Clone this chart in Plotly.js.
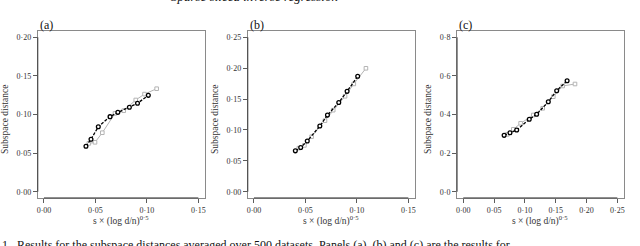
<!DOCTYPE html>
<html>
<head>
<meta charset="utf-8">
<script src="https://cdn.plot.ly/plotly-3.0.1.min.js"></script>
<style>html,body{margin:0;padding:0;background:#fff;}#chart{width:640px;height:246px;}</style>
</head>
<body>
<div id="chart"></div>
<script>
// Panel (a)
const xaCirc = [0.0408, 0.0457, 0.0528, 0.0642, 0.0718, 0.0830, 0.0909, 0.1014];
const yaCirc = [0.0588, 0.0679, 0.0842, 0.0972, 0.1028, 0.1093, 0.1145, 0.1248];
const xaSq   = [0.0436, 0.0496, 0.0567, 0.0690, 0.0775, 0.0892, 0.0977, 0.1095];
const yaSq   = [0.0626, 0.0640, 0.0764, 0.1015, 0.1049, 0.1188, 0.1264, 0.1334];
// Panel (b)
const xbCirc = [0.0402, 0.0454, 0.0518, 0.0640, 0.0714, 0.0824, 0.0905, 0.1008];
const ybCirc = [0.0662, 0.0715, 0.0820, 0.1064, 0.1240, 0.1445, 0.1625, 0.1868];
const xbSq   = [0.0436, 0.0490, 0.0560, 0.0690, 0.0770, 0.0885, 0.0970, 0.1088];
const ybSq   = [0.0705, 0.0750, 0.0890, 0.1150, 0.1320, 0.1545, 0.1745, 0.1998];
// Panel (c)
const xcCirc = [0.0663, 0.0758, 0.0867, 0.1071, 0.1191, 0.1380, 0.1516, 0.1685];
const ycCirc = [0.2920, 0.3057, 0.3197, 0.3751, 0.4010, 0.4663, 0.5233, 0.5745];
const xcSq   = [0.0714, 0.0812, 0.0931, 0.1136, 0.1289, 0.1461, 0.1613, 0.1813];
const ycSq   = [0.2970, 0.3233, 0.3544, 0.3974, 0.4321, 0.4922, 0.5477, 0.5580];

// Tick labels
const xTicksAB = [0, 0.05, 0.10, 0.15];
const xLabelsAB = ['0·00', '0·05', '0·10', '0·15'];
const xTicksC = [0, 0.05, 0.10, 0.15, 0.20, 0.25];
const xLabelsC = ['0·00', '0·05', '0·10', '0·15', '0·20', '0·25'];
const yTicksA = [0, 0.05, 0.10, 0.15, 0.20];
const yLabelsA = ['0·00', '0·05', '0·10', '0·15', '0·20'];
const yTicksB = [0, 0.05, 0.10, 0.15, 0.20, 0.25];
const yLabelsB = ['0·00', '0·05', '0·10', '0·15', '0·20', '0·25'];
const yTicksC = [0, 0.2, 0.4, 0.6, 0.8];
const yLabelsC = ['0·0', '0·2', '0·4', '0·6', '0·8'];
const panelLabels = ['(a)', '(b)', '(c)'];
const xTitle = 's × (log d/n)<sup>0·5</sup>';
const yTitle = 'Subspace distance';
const header = 'Sparse sliced inverse regression';
const caption = '1.  Results for the subspace distances averaged over 500 datasets. Panels (a), (b) and (c) are the results for';

const W = 640, H = 246;
const serif = 'Liberation Serif';
const GRAY = '#b4b4b4';

function sq(x, y, xa, ya) {
  return {x: x, y: y, xaxis: xa, yaxis: ya, type: 'scatter', mode: 'lines+markers',
    line: {color: GRAY, width: 1}, marker: {symbol: 'square', size: 3.6, color: 'white', line: {color: GRAY, width: 1}},
    showlegend: false, hoverinfo: 'skip'};
}
function circ(x, y, xa, ya) {
  return {x: x, y: y, xaxis: xa, yaxis: ya, type: 'scatter', mode: 'lines+markers',
    line: {color: '#000', width: 1.3, dash: '3px,1.5px'}, marker: {symbol: 'circle', size: 3.8, color: 'white', line: {color: '#000', width: 1.3}},
    showlegend: false, hoverinfo: 'skip'};
}

const data = [
  sq(xaSq, yaSq, 'x', 'y'), circ(xaCirc, yaCirc, 'x', 'y'),
  sq(xbSq, ybSq, 'x2', 'y2'), circ(xbCirc, ybCirc, 'x2', 'y2'),
  sq(xcSq, ycSq, 'x3', 'y3'), circ(xcCirc, ycCirc, 'x3', 'y3')
];

const yDom = [1 - 197.9 / H, 1 - 31.1 / H];
const xDoms = [[37.8 / W, 204.5 / W], [247.8 / W, 414.5 / W], [457.1 / W, 623.5 / W]];

function xax(dom, range, tv, tt, anchor) {
  return {domain: dom, range: range, tickvals: tv, ticktext: tt, anchor: anchor,
    showgrid: false, zeroline: false, showline: true, mirror: true, linecolor: '#8a8a8a', linewidth: 1,
    ticks: 'outside', ticklen: 4, tickcolor: '#333', tickwidth: 0.8,
    tickfont: {family: serif, size: 8, color: '#333'}, fixedrange: true};
}
function yax(range, tv, tt, anchor) {
  return {domain: yDom, range: range, tickvals: tv, ticktext: tt, anchor: anchor,
    showgrid: false, zeroline: false, showline: true, mirror: true, linecolor: '#8a8a8a', linewidth: 1,
    ticks: 'outside', ticklen: 4, tickcolor: '#333', tickwidth: 0.8,
    tickfont: {family: serif, size: 8, color: '#333'}, fixedrange: true};
}

const annotations = [];
const shapes = [];
const axesX = ['x', 'x2', 'x3'], axesY = ['y', 'y2', 'y3'];
const xMax = [0.15, 0.15, 0.25];
const yMax = [0.20, 0.25, 0.8];
const yTitleX = [5, 215, 428];
for (let i = 0; i < 3; i++) {
  const cx = (xDoms[i][0] + xDoms[i][1]) / 2;
  annotations.push({text: xTitle, xref: 'paper', yref: 'paper', x: cx, y: 1 - 220 / H, xanchor: 'center', yanchor: 'middle',
    showarrow: false, font: {family: serif, size: 9.5, color: '#333'}});
  annotations.push({text: yTitle, xref: 'paper', yref: 'paper', x: yTitleX[i] / W, y: 1 - 120 / H, xanchor: 'center', yanchor: 'middle',
    textangle: -90, showarrow: false, font: {family: serif, size: 9.5, color: '#333'}});
  annotations.push({text: panelLabels[i], xref: 'paper', yref: 'paper', x: xDoms[i][0], y: 1 - 25 / H, xanchor: 'left', yanchor: 'middle',
    showarrow: false, font: {family: serif, size: 12, color: '#111'}});
  shapes.push({type: 'line', xref: axesX[i], yref: axesY[i] + ' domain', x0: 0, x1: xMax[i], y0: 0, y1: 0, line: {color: '#333', width: 0.9}});
  shapes.push({type: 'line', xref: axesX[i] + ' domain', yref: axesY[i], x0: 0, x1: 0, y0: 0, y1: yMax[i], line: {color: '#333', width: 0.9}});
}
annotations.push({text: '<i>' + header + '</i>', xref: 'paper', yref: 'paper', x: 254 / W, y: 1 + 3 / H, xanchor: 'center', yanchor: 'middle',
  showarrow: false, font: {family: serif, size: 13, color: '#111'}});
annotations.push({text: caption, xref: 'paper', yref: 'paper', x: 0, y: 1 - 236 / H, xanchor: 'left', yanchor: 'top',
  showarrow: false, font: {family: serif, size: 12, color: '#111'}});

const layout = {
  width: W, height: H, margin: {l: 0, r: 0, t: 0, b: 0},
  paper_bgcolor: '#fff', plot_bgcolor: '#fff', showlegend: false,
  font: {family: serif},
  xaxis: xax(xDoms[0], [-0.006, 0.156], xTicksAB, xLabelsAB, 'y'),
  yaxis: yax([-0.008, 0.208], yTicksA, yLabelsA, 'x'),
  xaxis2: xax(xDoms[1], [-0.006, 0.156], xTicksAB, xLabelsAB, 'y2'),
  yaxis2: yax([-0.01, 0.26], yTicksB, yLabelsB, 'x2'),
  xaxis3: xax(xDoms[2], [-0.01, 0.26], xTicksC, xLabelsC, 'y3'),
  yaxis3: yax([-0.032, 0.832], yTicksC, yLabelsC, 'x3'),
  annotations: annotations, shapes: shapes
};

Plotly.newPlot('chart', data, layout, {staticPlot: true, displayModeBar: false});
</script>
</body>
</html>
